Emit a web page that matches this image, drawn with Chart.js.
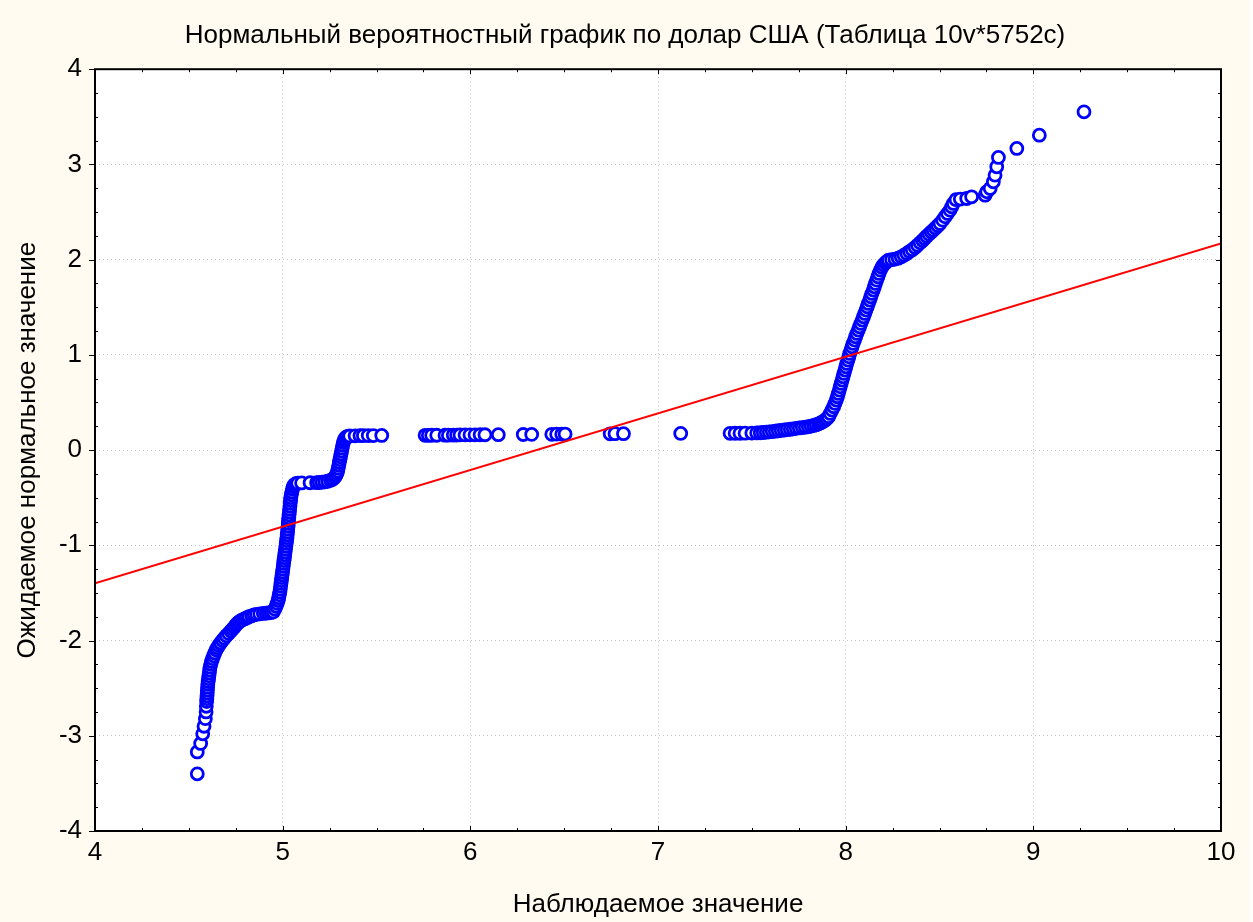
<!DOCTYPE html>
<html>
<head>
<meta charset="utf-8">
<script src="https://cdn.jsdelivr.net/npm/chart.js@4"></script>
<style>
  html,body{margin:0;padding:0;background:#fff;}
  #chart{display:block;background:#fffbf0;}
</style>
</head>
<body>
<canvas id="chart" width="1250" height="922"></canvas>
<script>
const TITLE = "Нормальный вероятностный график по долар США (Таблица 10v*5752c)";
const X_TITLE = "Наблюдаемое значение";
const Y_TITLE = "Ожидаемое нормальное значение";

const xTicks = [4, 5, 6, 7, 8, 9, 10];
const yTicks = [-4, -3, -2, -1, 0, 1, 2, 3, 4];
const MINOR_STEP = 0.25;

// sorted observations (x) and their expected normal values (y)
const observed = [
  4.545,4.545,4.563,4.574,4.581,4.588,4.592,4.593,
  4.595,4.596,4.597,4.598,4.599,4.600,4.601,4.603,4.605,4.607,4.609,4.611,4.613,4.617,4.621,4.626,4.632,
  4.638,4.645,4.652,4.660,4.669,4.679,4.689,4.700,4.712,4.724,4.733,4.742,4.750,4.758,4.768,4.778,4.788,
  4.799,4.810,4.820,4.835,4.848,4.861,4.878,4.897,4.912,4.924,4.937,4.950,
  4.958,4.965,4.971,4.976,4.979,4.982,4.985,4.987,4.989,4.991,4.993,4.995,4.997,4.999,5.001,5.003,5.005,
  5.007,5.009,5.011,5.013,5.015,5.017,5.019,5.021,5.023,5.024,5.026,5.027,5.029,5.030,5.031,5.033,5.034,
  5.036,5.037,5.039,5.040,5.042,5.043,5.046,5.049,5.052,5.056,5.062,5.070,5.080,
  5.101,5.146,5.181,5.195,5.210,5.225,5.240,5.255,5.267,5.277,5.284,5.289,5.293,5.296,5.299,5.302,5.305,
  5.308,5.311,5.314,5.317,5.320,5.324,5.328,5.333,5.340,5.348,5.357,
  5.386,5.412,5.430,5.456,5.483,5.528,
  5.759,5.776,5.794,5.821,5.865,5.883,5.909,5.927,5.945,5.972,5.998,6.025,6.052,6.078,6.149,
  6.282,6.327,6.434,6.460,6.487,6.505,6.745,6.771,6.816,7.121,
  7.384,7.411,7.437,7.464,7.500,7.526,
  7.545,7.561,7.577,7.593,7.609,7.625,7.641,7.657,7.673,7.689,7.705,7.721,7.737,7.753,7.769,7.785,7.801,
  7.816,7.830,7.843,7.856,7.868,7.879,7.890,7.899,
  7.909,7.918,7.927,7.936,7.943,7.950,7.956,7.961,7.966,7.971,7.976,7.981,7.986,7.991,7.996,8.001,8.006,
  8.012,8.017,8.022,8.028,8.034,8.040,8.047,8.053,8.060,8.067,8.074,8.081,8.088,8.095,8.102,8.108,8.115,
  8.121,8.128,8.134,8.140,8.147,8.153,8.159,8.165,8.172,8.178,8.185,8.193,8.201,8.211,8.220,
  8.228,8.245,8.263,8.280,8.296,8.311,8.326,8.340,8.355,8.370,8.383,8.397,8.410,8.421,8.432,8.444,8.456,
  8.467,8.479,8.491,8.503,8.517,8.530,8.543,8.556,8.565,8.574,8.588,
  8.611,8.645,8.671,8.743,8.752,8.770,8.787,8.796,8.805,8.814,8.912,9.032,9.270
];
const expected = [
  -3.40,-3.17,-3.08,-2.98,-2.90,-2.82,-2.75,-2.69,
  -2.64,-2.61,-2.58,-2.55,-2.52,-2.49,-2.46,-2.43,-2.40,-2.37,-2.34,-2.31,-2.28,-2.25,-2.22,-2.19,-2.16,
  -2.13,-2.10,-2.075,-2.05,-2.025,-2.00,-1.975,-1.95,-1.925,-1.90,-1.88,-1.86,-1.84,-1.82,-1.805,-1.79,-1.78,
  -1.77,-1.76,-1.75,-1.74,-1.73,-1.725,-1.72,-1.715,-1.712,-1.71,-1.705,-1.70,
  -1.67,-1.64,-1.61,-1.58,-1.55,-1.52,-1.49,-1.46,-1.43,-1.40,-1.37,-1.34,-1.31,-1.28,-1.25,-1.22,-1.19,
  -1.16,-1.13,-1.10,-1.07,-1.04,-1.01,-0.98,-0.95,-0.92,-0.89,-0.86,-0.83,-0.80,-0.77,-0.74,-0.71,-0.68,
  -0.65,-0.62,-0.59,-0.56,-0.53,-0.50,-0.47,-0.44,-0.41,-0.385,-0.365,-0.352,-0.347,
  -0.345,-0.343,-0.342,-0.340,-0.337,-0.333,-0.327,-0.318,-0.305,-0.288,-0.268,-0.245,-0.22,-0.19,-0.16,-0.13,-0.10,
  -0.07,-0.04,-0.01,0.02,0.05,0.08,0.105,0.125,0.138,0.145,0.148,
  0.150,0.151,0.152,0.153,0.153,0.154,
  0.155,0.155,0.156,0.156,0.157,0.157,0.158,0.158,0.159,0.159,0.160,0.160,0.161,0.161,0.162,
  0.164,0.165,0.166,0.167,0.167,0.168,0.171,0.172,0.172,0.175,
  0.176,0.177,0.177,0.178,0.179,0.180,
  0.182,0.185,0.188,0.191,0.195,0.199,0.203,0.207,0.211,0.215,0.219,0.223,0.228,0.233,0.237,0.241,0.246,
  0.252,0.259,0.267,0.276,0.287,0.299,0.313,0.33,
  0.35,0.385,0.42,0.455,0.49,0.525,0.56,0.595,0.63,0.665,0.70,0.735,0.77,0.805,0.84,0.875,0.91,
  0.945,0.98,1.015,1.05,1.085,1.12,1.155,1.19,1.225,1.26,1.295,1.33,1.365,1.40,1.435,1.47,1.505,
  1.54,1.575,1.61,1.645,1.68,1.715,1.75,1.785,1.82,1.855,1.89,1.92,1.945,1.965,1.98,
  1.995,2.0,2.005,2.015,2.03,2.047,2.065,2.085,2.105,2.128,2.152,2.177,2.2,2.222,2.245,2.268,2.29,
  2.31,2.333,2.356,2.38,2.415,2.45,2.485,2.52,2.555,2.59,2.63,
  2.636,2.642,2.66,2.677,2.712,2.747,2.817,2.887,2.975,3.073,3.168,3.307,3.552
];

// fitted normal line
const fitX = [4, 10];
const fitY = [-1.40, 2.17];

const FONT = "'Liberation Sans', Arial, sans-serif";
const FONT_SIZE = 26;

const plotFrame = {
  id: "plotFrame",
  beforeDraw(chart){
    const {ctx, chartArea:a} = chart;
    ctx.save();
    ctx.fillStyle = "#ffffff";
    ctx.fillRect(a.left, a.top, a.right-a.left, a.bottom-a.top);
    ctx.restore();
  },
  afterDraw(chart){
    const {ctx, chartArea:a, scales:{x, y}} = chart;
    ctx.save();
    ctx.strokeStyle = "#000";
    ctx.lineWidth = 1;
    ctx.beginPath();
    for(let v=x.min; v<=x.max+1e-9; v+=MINOR_STEP){
      const px = Math.round(x.getPixelForValue(v))+0.5;
      const len = xTicks.includes(Math.round(v*100)/100) ? 5 : 3;
      ctx.moveTo(px, a.bottom); ctx.lineTo(px, a.bottom-len);
      ctx.moveTo(px, a.top); ctx.lineTo(px, a.top+len);
    }
    for(let v=y.min; v<=y.max+1e-9; v+=MINOR_STEP){
      const py = Math.round(y.getPixelForValue(v))+0.5;
      const major = yTicks.includes(Math.round(v*100)/100);
      if(major){ ctx.moveTo(a.left-6, py); ctx.lineTo(a.left, py); }
      else { ctx.moveTo(a.left, py); ctx.lineTo(a.left+3, py); }
      ctx.moveTo(a.right, py); ctx.lineTo(a.right-(major?5:3), py);
    }
    ctx.stroke();
    ctx.lineWidth = 2;
    ctx.strokeRect(a.left, a.top, a.right-a.left, a.bottom-a.top);
    ctx.restore();
  }
};

new Chart(document.getElementById("chart"), {
  data: {
    datasets: [
      {
        type: "line",
        data: fitX.map((v,i)=>({x:v, y:fitY[i]})),
        borderColor: "#ff0000",
        borderWidth: 2,
        pointRadius: 0,
        fill: false,
        order: 0
      },
      {
        type: "scatter",
        data: observed.map((v,i)=>({x:v, y:expected[i]})),
        borderColor: "#0000ff",
        backgroundColor: "#ffffff",
        pointRadius: 6,
        pointBorderWidth: 2.8,
        order: 1
      }
    ]
  },
  options: {
    responsive: false,
    animation: false,
    devicePixelRatio: 1,
    layout: {padding: 0},
    plugins: {
      legend: {display: false},
      tooltip: {enabled: false},
      title: {
        display: true,
        text: TITLE,
        color: "#000",
        font: {family: FONT, size: FONT_SIZE, weight: "normal"},
        padding: {top: 20, bottom: 18}
      }
    },
    scales: {
      x: {
        type: "linear",
        min: 4, max: 10,
        afterBuildTicks: s => { s.ticks = xTicks.map(v=>({value:v})); },
        afterFit: s => { s.height = 91; },
        ticks: {color: "#000", padding: 6, font: {family: FONT, size: FONT_SIZE}, callback: v => String(v)},
        grid: {color: "#c4c4c4", lineWidth: 1, drawTicks: false},
        border: {display: false, dash: [1, 3]},
        title: {display: true, text: X_TITLE, color: "#000", font: {family: FONT, size: FONT_SIZE}, padding: {top: 0, bottom: 2}}
      },
      y: {
        type: "linear",
        min: -4, max: 4,
        afterBuildTicks: s => { s.ticks = yTicks.map(v=>({value:v})); },
        afterFit: s => { s.width = 95; },
        ticks: {color: "#000", padding: 13, font: {family: FONT, size: FONT_SIZE}, callback: v => String(v)},
        grid: {color: "#c4c4c4", lineWidth: 1, drawTicks: false},
        border: {display: false, dash: [1, 3]},
        title: {display: true, text: Y_TITLE, color: "#000", font: {family: FONT, size: FONT_SIZE}, padding: {top: 12, bottom: 0}}
      },
      // empty right margin so the plot ends at the same place as the frame
      yRight: {
        type: "linear",
        position: "right",
        afterFit: s => { s.width = 29; },
        grid: {display: false, drawTicks: false},
        ticks: {display: false},
        border: {display: false}
      }
    }
  },
  plugins: [plotFrame]
});
</script>
</body>
</html>
